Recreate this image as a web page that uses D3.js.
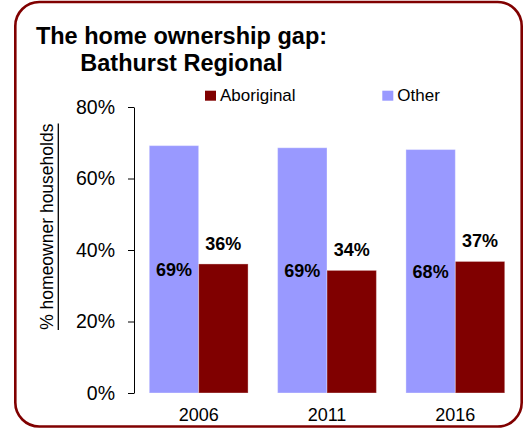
<!DOCTYPE html>
<html><head><meta charset="utf-8">
<script src="https://cdn.jsdelivr.net/npm/d3@7"></script>
<style>body{margin:0;background:#fff}svg{display:block}text{font-family:"Liberation Sans",Arial,sans-serif}</style>
</head><body><svg id="c" width="528" height="428"></svg>
<script>
const years = ["2006", "2011", "2016"];
const seriesNames = ["Other", "Aboriginal"];
const otherValues = [0.692, 0.686, 0.681];
const aboriginalValues = [0.361, 0.343, 0.368];
const otherLabels = ["69%", "69%", "68%"];
const aboriginalLabels = ["36%", "34%", "37%"];
const yTicks = [0, 0.2, 0.4, 0.6, 0.8];
const colors = {Other: "#9999FF", Aboriginal: "#800000"};

const svg = d3.select("#c");
svg.append("rect").attr("x", 15.3).attr("y", 2).attr("width", 506.4).attr("height", 424.5)
  .attr("rx", 24).attr("ry", 24).attr("fill", "#fff").attr("stroke", "#800000").attr("stroke-width", 2.6);

svg.append("text").attr("x", 181.5).attr("y", 44).attr("text-anchor", "middle")
  .attr("font-weight", "bold").attr("font-size", 23.5).text("The home ownership gap:");
svg.append("text").attr("x", 181.5).attr("y", 71).attr("text-anchor", "middle")
  .attr("font-weight", "bold").attr("font-size", 23.5).text("Bathurst Regional");

const y = d3.scaleLinear().domain([0, 0.8]).range([393, 107]);
const x0 = d3.scaleBand().domain(years).range([134.5, 519.5]).paddingInner(0.23).paddingOuter(0.115);
const x1 = d3.scaleBand().domain(seriesNames).range([0, x0.bandwidth()]);

const yAxis = svg.append("g").attr("transform", "translate(134,0)")
  .call(d3.axisLeft(y).tickValues(yTicks).tickFormat(d3.format(".0%")).tickSize(6).tickSizeOuter(0).tickPadding(13));
yAxis.selectAll("text").attr("font-size", 19.5).attr("font-family", '"Liberation Sans",Arial,sans-serif').attr("fill", "#000");
yAxis.selectAll("line,path").attr("stroke", "#000");

const data = years.map((yr, i) => ({year: yr, Other: otherValues[i], Aboriginal: aboriginalValues[i], oL: otherLabels[i], aL: aboriginalLabels[i]}));

const g = svg.selectAll("g.grp").data(data).join("g").attr("class", "grp")
  .attr("transform", d => `translate(${x0(d.year)},0)`);
g.selectAll("rect").data(d => seriesNames.map(s => ({s, v: d[s]}))).join("rect")
  .attr("x", d => x1(d.s)).attr("width", x1.bandwidth())
  .attr("y", d => y(d.v)).attr("height", d => y(0) - y(d.v))
  .attr("fill", d => colors[d.s]).attr("stroke", "rgba(255,255,255,0.35)").attr("stroke-width", 1);

g.append("text").attr("x", x1("Other") + x1.bandwidth() / 2)
  .attr("y", d => (y(d.Other) + y(0)) / 2 + 7).attr("text-anchor", "middle")
  .attr("font-weight", "bold").attr("font-size", 18).text(d => d.oL);
g.append("text").attr("x", x1("Aboriginal") + x1.bandwidth() / 2)
  .attr("y", d => y(d.Aboriginal) - 14).attr("text-anchor", "middle")
  .attr("font-weight", "bold").attr("font-size", 18).text(d => d.aL);

svg.selectAll("text.xl").data(years).join("text").attr("class", "xl")
  .attr("x", d => x0(d) + x0.bandwidth() / 2).attr("y", 421).attr("text-anchor", "middle")
  .attr("font-size", 18).text(d => d);

// y axis label
const yl = svg.append("text").attr("transform", "translate(53,226.7) rotate(-90)")
  .attr("text-anchor", "middle").attr("font-size", 17.5).text("% homeowner households");
const bb = yl.node().getBBox();
svg.append("line").attr("x1", 58.3).attr("x2", 58.3)
  .attr("y1", 226.7 - bb.width / 2).attr("y2", 226.7 + bb.width / 2)
  .attr("stroke", "#000").attr("stroke-width", 1.3);

// legend
const legend = [{s: "Aboriginal", x: 205}, {s: "Other", x: 382.3}];
const lg = svg.selectAll("g.lg").data(legend).join("g").attr("class", "lg")
  .attr("transform", d => `translate(${d.x},0)`);
lg.append("rect").attr("x", 0).attr("y", 90.7).attr("width", 11).attr("height", 10).attr("fill", d => colors[d.s]);
lg.append("text").attr("x", 15).attr("y", 101).attr("font-size", 17).text(d => d.s);
</script></body></html>
